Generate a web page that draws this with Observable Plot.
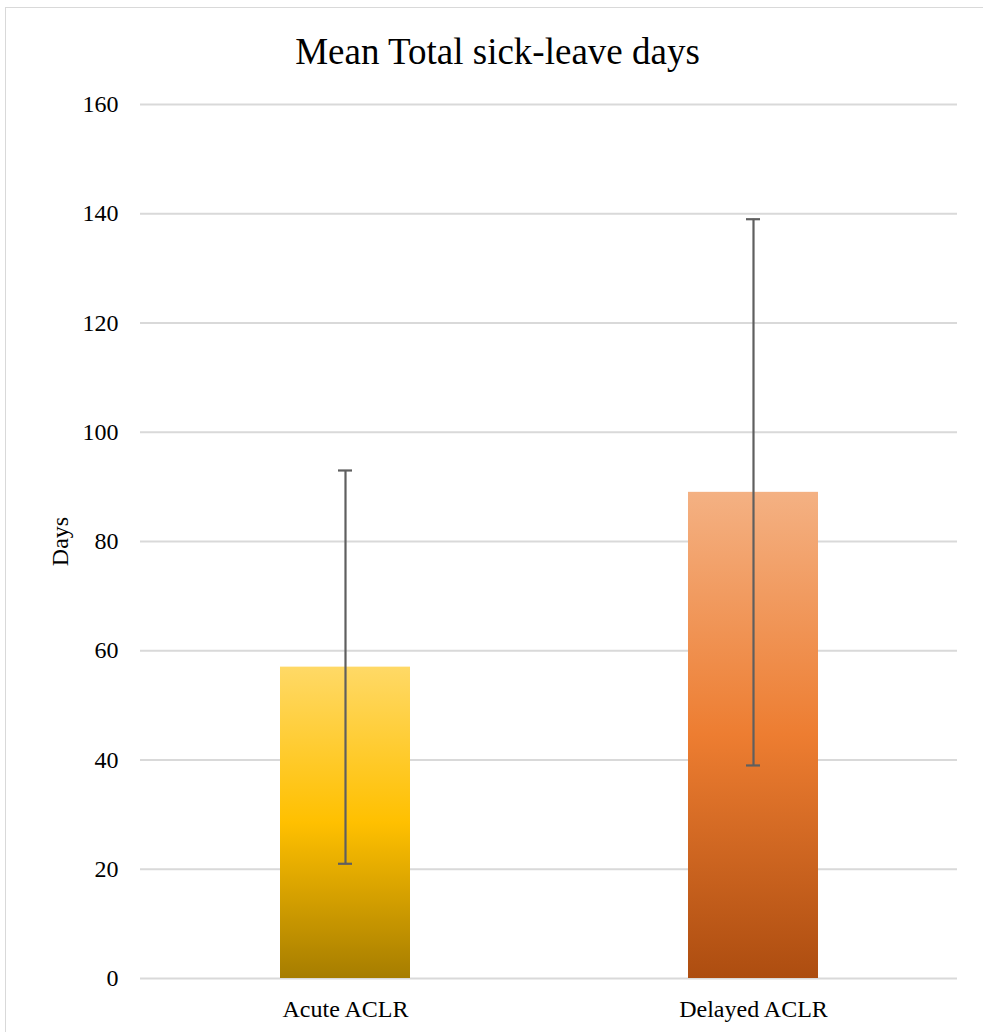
<!DOCTYPE html>
<html>
<head>
<meta charset="utf-8">
<script src="https://cdn.jsdelivr.net/npm/d3@7"></script>
<script src="https://cdn.jsdelivr.net/npm/@observablehq/plot@0.6"></script>
<style>
  html, body { margin: 0; padding: 0; background: #fff; }
  body { width: 983px; height: 1032px; position: relative; overflow: hidden; font-family: "Liberation Serif", "Times New Roman", serif; }
  #frame { position: absolute; left: 5px; top: 7px; width: 990px; height: 1040px; border: 1.5px solid #d9d9d9; box-sizing: border-box; }
  #title { position: absolute; left: 0; width: 995px; top: 30px; text-align: center; font-size: 37px; line-height: 44px; color: #000; }
  #chart { position: absolute; left: 0; top: 84px; }
</style>
</head>
<body>
<div id="frame"></div>
<div id="title">Mean Total sick-leave days</div>
<div id="chart"></div>
<script>
// Data
const categories = ["Acute ACLR", "Delayed ACLR"];
const means = [57, 89];
const errLow = [21, 39];
const errHigh = [93, 139];
const yTicks = [0, 20, 40, 60, 80, 100, 120, 140, 160];
const yLabel = "Days";

const gradientIds = ["gAcute", "gDelayed"];
const data = categories.map((c, i) => ({
  cat: c, mean: means[i], lo: errLow[i], hi: errHigh[i], grad: `url(#${gradientIds[i]})`
}));

const W = 983, H = 948;
const chart = Plot.plot({
  width: W,
  height: H,
  marginTop: 20,
  marginBottom: 54,
  marginLeft: 140,
  marginRight: 26,
  style: { fontFamily: "'Liberation Serif', 'Times New Roman', serif", fontSize: "24px", color: "#000", background: "transparent" },
  x: { domain: categories, padding: 0, label: null, tickSize: 0, tickPadding: 21 },
  y: { domain: [0, 160], ticks: yTicks, label: null, tickSize: 0, tickPadding: 22 },
  color: { type: "identity" },
  marks: [
    Plot.gridY(yTicks, { stroke: "#d9d9d9", strokeOpacity: 1, strokeWidth: 2 }),
    Plot.barY(data, { x: "cat", y: "mean", fill: "grad", insetLeft: 139, insetRight: 139 }),
    Plot.ruleX(data, { x: "cat", y1: "lo", y2: "hi", stroke: "#5f5f5f", strokeWidth: 2.2 }),
    Plot.tickY(data, { x: "cat", y: "lo", stroke: "#5f5f5f", strokeWidth: 2.2, insetLeft: 197, insetRight: 197 }),
    Plot.tickY(data, { x: "cat", y: "hi", stroke: "#5f5f5f", strokeWidth: 2.2, insetLeft: 197, insetRight: 197 }),
    Plot.axisY({ ticks: yTicks, tickSize: 0, tickPadding: 22, fontSize: 24 }),
    Plot.axisX({ tickSize: 0, tickPadding: 21, fontSize: 24 }),
    Plot.text([yLabel], { frameAnchor: "left", textAnchor: "middle", rotate: -90, dx: -80, fontSize: 24, fill: "#000" })
  ]
});

// Vertical gradients for the bars
const svg = d3.select(chart.tagName.toLowerCase() === "svg" ? chart : chart.querySelector("svg"));
const defs = svg.insert("defs", ":first-child");
const grads = [
  { id: "gAcute", stops: ["#ffd966", "#ffc000", "#a67d00"] },
  { id: "gDelayed", stops: ["#f4b183", "#ed7d31", "#ad4d10"] }
];
grads.forEach(g => {
  const lg = defs.append("linearGradient").attr("id", g.id).attr("x1", 0).attr("y1", 0).attr("x2", 0).attr("y2", 1);
  lg.append("stop").attr("offset", "0%").attr("stop-color", g.stops[0]);
  lg.append("stop").attr("offset", "50%").attr("stop-color", g.stops[1]);
  lg.append("stop").attr("offset", "100%").attr("stop-color", g.stops[2]);
});

document.getElementById("chart").appendChild(chart);
</script>
</body>
</html>
